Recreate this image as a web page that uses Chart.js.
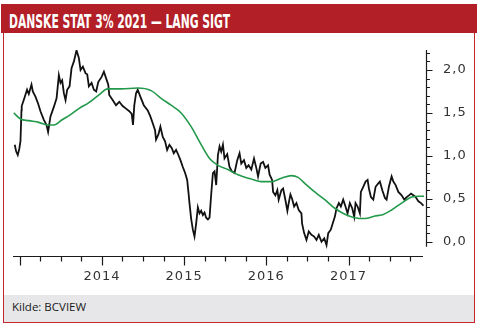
<!DOCTYPE html>
<html>
<head>
<meta charset="utf-8">
<script src="https://cdn.jsdelivr.net/npm/chart.js@4"></script>
<style>
  html, body { margin: 0; padding: 0; background: #fff; }
  #wrap { position: relative; width: 479px; height: 327px; overflow: hidden; }
  #head { position: absolute; left: 1px; top: 4px; width: 476px; height: 29px; background: #b21f27; }
  #title { position: absolute; left: 9px; top: 12px; font: bold 19px/19px "DejaVu Sans Condensed", "DejaVu Sans", sans-serif;
           color: #fff; white-space: nowrap; transform-origin: 0 0; display: inline-block; }
  #frame { position: absolute; left: 3px; top: 33px; width: 470px; height: 289px; border: 1px solid #c3262d; border-top: none; }
  #foot { position: absolute; left: 4px; top: 295px; width: 470px; height: 27px; background: #e7e7e9; }
  #src { position: absolute; left: 12px; top: 299px; font: 11.5px "Open Sans", sans-serif; color: #1a1a1a; }
  canvas { position: absolute; left: 0; top: 0; }
</style>
</head>
<body>
<div id="wrap">
  <div id="frame"></div>
  <div id="foot"></div>
  <div id="head"></div>
  <span id="title">DANSKE STAT 3% 2021 — LANG SIGT</span>
  <span id="src">Kilde: BCVIEW</span>
  <canvas id="chart" width="479" height="327"></canvas>
</div>
<script>
// Kurs (sort linje)
const priceDates = [
  2012.939, 2012.957, 2012.976, 2012.994, 2013.009, 2013.021, 2013.024, 2013.049, 2013.089, 2013.110,
  2013.143, 2013.159, 2013.191, 2013.223, 2013.252, 2013.293, 2013.326, 2013.345, 2013.374, 2013.415,
  2013.448, 2013.476, 2013.496, 2013.516, 2013.537, 2013.557, 2013.577, 2013.606, 2013.630, 2013.659,
  2013.691, 2013.719, 2013.740, 2013.768, 2013.801, 2013.821, 2013.841, 2013.874, 2013.902, 2013.930,
  2013.955, 2013.996, 2014.024, 2014.052, 2014.077, 2014.089, 2014.130, 2014.171, 2014.211, 2014.252,
  2014.293, 2014.333, 2014.362, 2014.378, 2014.394, 2014.415, 2014.435, 2014.467, 2014.509, 2014.557,
  2014.589, 2014.618, 2014.646, 2014.658, 2014.687, 2014.711, 2014.740, 2014.768, 2014.793, 2014.821,
  2014.850, 2014.874, 2014.902, 2014.930, 2014.955, 2014.984, 2015.012, 2015.037, 2015.052, 2015.065,
  2015.085, 2015.106, 2015.126, 2015.146, 2015.167, 2015.187, 2015.207, 2015.228, 2015.248, 2015.268,
  2015.289, 2015.309, 2015.329, 2015.350, 2015.370, 2015.390, 2015.411, 2015.431, 2015.451, 2015.472,
  2015.491, 2015.524, 2015.552, 2015.581, 2015.613, 2015.646, 2015.674, 2015.695, 2015.728, 2015.756,
  2015.784, 2015.817, 2015.850, 2015.878, 2015.899, 2015.931, 2015.960, 2015.988, 2016.021, 2016.040,
  2016.070, 2016.082, 2016.110, 2016.134, 2016.150, 2016.183, 2016.204, 2016.229, 2016.256, 2016.272,
  2016.293, 2016.313, 2016.338, 2016.366, 2016.394, 2016.427, 2016.435, 2016.460, 2016.488, 2016.516,
  2016.549, 2016.582, 2016.610, 2016.638, 2016.671, 2016.704, 2016.732, 2016.753, 2016.784, 2016.813,
  2016.833, 2016.854, 2016.882, 2016.906, 2016.935, 2016.963, 2016.988, 2017.016, 2017.045, 2017.069,
  2017.085, 2017.110, 2017.138, 2017.150, 2017.179, 2017.207, 2017.232, 2017.248, 2017.272, 2017.301,
  2017.329, 2017.362, 2017.381, 2017.411, 2017.443, 2017.463, 2017.491, 2017.524, 2017.545, 2017.573,
  2017.606, 2017.646, 2017.679, 2017.707, 2017.735, 2017.760, 2017.789, 2017.817, 2017.850, 2017.882,
  2017.911
];
const priceValues = [
  1.13, 1.05, 1.01, 1.08, 1.17, 1.53, 1.58, 1.65, 1.77, 1.72,
  1.83, 1.75, 1.69, 1.61, 1.52, 1.42, 1.36, 1.28, 1.46, 1.57,
  1.67, 1.94, 1.85, 1.88, 1.73, 1.65, 1.77, 1.81, 2.02, 2.10,
  2.23, 2.14, 2.00, 2.04, 1.96, 1.95, 1.81, 1.85, 1.77, 1.75,
  1.86, 1.92, 1.98, 1.90, 1.83, 1.71, 1.65, 1.59, 1.63, 1.58,
  1.55, 1.52, 1.49, 1.36, 1.59, 1.73, 1.77, 1.69, 1.59, 1.53,
  1.46, 1.38, 1.30, 1.19, 1.25, 1.34, 1.22, 1.17, 1.07, 1.13,
  1.09, 1.03, 1.07, 1.01, 0.95, 0.87, 0.80, 0.72, 0.58, 0.45,
  0.27, 0.14, 0.06, 0.21, 0.40, 0.33, 0.36, 0.31, 0.34, 0.28,
  0.26, 0.28, 0.55, 0.80, 0.82, 0.66, 1.01, 1.11, 1.05, 1.13,
  0.97, 1.02, 0.87, 0.82, 0.80, 0.95, 1.03, 0.91, 0.95, 0.86,
  0.89, 0.84, 0.97, 0.86, 0.76, 0.91, 0.93, 0.86, 0.89, 0.78,
  0.72, 0.58, 0.54, 0.60, 0.49, 0.60, 0.62, 0.50, 0.36, 0.45,
  0.55, 0.50, 0.41, 0.45, 0.37, 0.33, 0.21, 0.10, 0.02, 0.12,
  0.08, 0.06, 0.02, 0.08, 0.00, 0.04, -0.04, 0.10, 0.14, 0.23,
  0.29, 0.39, 0.45, 0.41, 0.49, 0.41, 0.33, 0.45, 0.39, 0.29,
  0.45, 0.41, 0.33, 0.58, 0.64, 0.70, 0.72, 0.62, 0.52, 0.49,
  0.64, 0.68, 0.70, 0.60, 0.51, 0.49, 0.64, 0.76, 0.70, 0.66,
  0.58, 0.54, 0.49, 0.52, 0.54, 0.56, 0.54, 0.52, 0.47, 0.45,
  0.42
];

// Glidende gennemsnit (grøn linje)
const avgDates = [
  2012.927, 2013.009, 2013.110, 2013.232, 2013.333, 2013.415, 2013.516, 2013.618, 2013.719, 2013.841,
  2013.963, 2014.069, 2014.232, 2014.435, 2014.598, 2014.720, 2014.841, 2014.963, 2015.085, 2015.207,
  2015.309, 2015.411, 2015.533, 2015.655, 2015.817, 2015.939, 2016.061, 2016.183, 2016.305, 2016.386,
  2016.467, 2016.589, 2016.711, 2016.833, 2016.955, 2017.077, 2017.199, 2017.321, 2017.402, 2017.524,
  2017.646, 2017.768, 2017.850, 2017.931
];
const avgValues = [
  1.50, 1.43, 1.41, 1.39, 1.36, 1.36, 1.42, 1.48, 1.55, 1.62,
  1.71, 1.78, 1.78, 1.79, 1.76, 1.67, 1.59, 1.50, 1.34, 1.13,
  0.97, 0.89, 0.84, 0.78, 0.73, 0.70, 0.70, 0.74, 0.77, 0.75,
  0.68, 0.58, 0.49, 0.39, 0.32, 0.28, 0.27, 0.30, 0.31, 0.37,
  0.45, 0.52, 0.53, 0.53
];

const yearTicks = [2014, 2015, 2016, 2017];
const yearLabels = ['2014', '2015', '2016', '2017'];
const yTicks = [0, 0.5, 1, 1.5, 2];
const yLabels = ['0,0', '0,5', '1,0', '1,5', '2,0'];

// title squeezed to the narrow look of the original
const title = document.getElementById('title');
title.style.transform = 'scaleX(' + (221 / title.getBoundingClientRect().width) + ')';

const axesPlugin = {
  id: 'axes',
  afterDraw(chart) {
    const { ctx, chartArea: a, scales: { x, y } } = chart;
    ctx.save();
    ctx.strokeStyle = '#1a1a1a';
    ctx.fillStyle = '#333';
    ctx.lineWidth = 1.2;

    // x axis + quarter ticks
    const base = a.bottom - 0.5;
    ctx.beginPath();
    ctx.moveTo(a.left, base);
    ctx.lineTo(a.right - 1, base);
    for (let q = 2013; q < x.max; q += 0.25) {
      const px = Math.round(x.getPixelForValue(q)) + 0.5;
      ctx.moveTo(px, base);
      ctx.lineTo(px, base + (Number.isInteger(q) ? 9 : 5));
    }
    ctx.stroke();

    ctx.font = '13px "DejaVu Sans", sans-serif';
    ctx.letterSpacing = '1px';
    ctx.textAlign = 'center';
    ctx.textBaseline = 'middle';
    yearTicks.forEach((t, i) => ctx.fillText(yearLabels[i], x.getPixelForValue(t), 277));

    // y axis on the right, minor ticks every 0,1
    const ax = a.right + 2.5;
    ctx.beginPath();
    ctx.moveTo(ax, y.getPixelForValue(y.max));
    ctx.lineTo(ax, y.getPixelForValue(-0.06));
    for (let k = 0; k <= 22; k++) {
      const py = Math.round(y.getPixelForValue(k / 10)) + 0.5;
      ctx.moveTo(ax, py);
      ctx.lineTo(ax + (k % 5 === 0 ? 6 : 3.5), py);
    }
    ctx.stroke();

    ctx.textAlign = 'left';
    yTicks.forEach((t, i) => ctx.fillText(yLabels[i], 443, y.getPixelForValue(t)));
    ctx.restore();
  }
};

new Chart(document.getElementById('chart'), {
  type: 'line',
  data: {
    datasets: [{
      label: 'Gennemsnit',
      data: avgDates.map((d, i) => ({ x: d, y: avgValues[i] })),
      borderColor: '#23994b',
      borderWidth: 1.6,
      pointRadius: 0,
      cubicInterpolationMode: 'monotone'
    }, {
      label: 'Kurs',
      data: priceDates.map((d, i) => ({ x: d, y: priceValues[i] })),
      borderColor: '#111',
      borderWidth: 1.8,
      pointRadius: 0,
      tension: 0
    }]
  },
  options: {
    responsive: false,
    animation: false,
    layout: { padding: { left: 13, top: 50, right: 55, bottom: 70 } },
    plugins: { legend: { display: false }, tooltip: { enabled: false } },
    scales: {
      x: { type: 'linear', min: 2012.918, max: 2017.918, display: false },
      y: { min: -0.178, max: 2.233, display: false }
    }
  },
  plugins: [axesPlugin]
});
</script>
</body>
</html>
